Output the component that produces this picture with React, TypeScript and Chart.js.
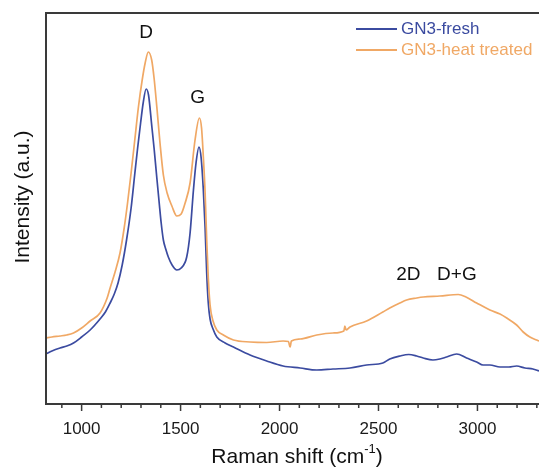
import React, { useEffect, useRef } from "react";
import { Chart, registerables } from "chart.js";

Chart.register(...registerables);

// ---- data (Raman shift in cm^-1, intensity in arbitrary units) ----
const freshX = [
  819, 850, 891, 925, 959, 1000, 1043, 1093, 1120, 1144, 1165, 1184, 1205, 1227, 1250, 1268, 1283, 1298, 1311, 1326,
  1338, 1355, 1366, 1380, 1392, 1402, 1413, 1425, 1438, 1457, 1481, 1503, 1531, 1548, 1565, 1578, 1593, 1604, 1615,
  1624, 1632, 1640, 1649, 1664, 1683, 1725, 1767, 1851, 1935, 2018, 2104, 2188, 2270, 2356, 2440, 2522, 2557, 2608,
  2653, 2693, 2726, 2775, 2810, 2844, 2895, 2945, 2996, 3028, 3063, 3114, 3159, 3198, 3240, 3280, 3311,
];
const freshY = [
  49, 52, 55, 57, 60, 66, 73, 84, 91, 100, 109, 120, 138, 163, 195, 228, 255, 280, 300, 314,
  308, 276, 255, 225, 200, 180, 163, 154, 146, 138, 133, 135, 146, 170, 213, 240, 256, 245, 213,
  175, 130, 100, 84, 74, 66, 60, 56, 48, 42, 37, 35, 33, 34, 35, 38, 40, 44, 47,
  48.5, 47, 45, 43, 44, 46, 49, 45, 41, 38, 38, 36, 36, 37, 35, 34, 32,
];
const heatX = [
  819, 850, 891, 925, 959, 1000, 1043, 1093, 1129, 1144, 1169, 1194, 1215, 1232, 1250, 1268, 1287, 1306, 1321, 1337,
  1354, 1366, 1380, 1396, 1413, 1432, 1456, 1481, 1503, 1523, 1548, 1573, 1595, 1606, 1615, 1624, 1632, 1640, 1649,
  1664, 1683, 1716, 1767, 1851, 1935, 2018, 2045, 2053, 2060, 2104, 2188, 2270, 2325, 2330, 2336, 2356, 2440, 2522,
  2557, 2608, 2642, 2693, 2726, 2810, 2903, 2942, 2996, 3063, 3114, 3148, 3198, 3231, 3265, 3299, 3311,
];
const heatY = [
  65, 66, 67, 68, 70, 75, 82, 90, 105, 115, 131, 150, 175, 200, 230, 262, 296, 323, 340, 351,
  343, 325, 296, 260, 228, 210, 197, 187, 189, 200, 220, 263, 285, 275, 246, 210, 163, 125, 98,
  82, 73, 68, 63, 61, 60.5, 62, 61.5, 56, 62, 64, 68, 70, 72, 77, 73, 76, 82, 91,
  95, 100, 103, 105, 106, 107, 108.5, 106, 100, 93, 89, 85, 78, 71, 66, 63, 62,
];

const seriesNames = ["GN3-fresh", "GN3-heat treated"];
const seriesColors = ["#3b4ba0", "#f0a865"];

const xTicks = [1000, 1500, 2000, 2500, 3000];
const X_MIN = 820;
const X_MAX = 3311;

const peakLabels = ["D", "G", "2D", "D+G"];
const peakLabelX = [1326, 1586, 2651, 2896];
const peakLabelY = [370, 305, 128, 128];

const yTitle = "Intensity (a.u.)";
const xTitleMain = "Raman shift (cm";
const xTitleSup = "-1";
const xTitleEnd = ")";

const FONT = "'Liberation Sans', Arial, Helvetica, sans-serif";

const decorPlugin = {
  id: "decor",
  afterDatasetsDraw(chart: any) {
    const { ctx, chartArea: a, scales } = chart;
    const x = scales.x;
    const y = scales.y;
    ctx.save();

    // frame (left, top, bottom)
    ctx.strokeStyle = "#3a3a3a";
    ctx.lineWidth = 2;
    ctx.beginPath();
    ctx.moveTo(a.right + 2, a.top);
    ctx.lineTo(a.left, a.top);
    ctx.lineTo(a.left, a.bottom);
    ctx.lineTo(a.right + 2, a.bottom);
    ctx.stroke();

    // tick marks (major every 500, minor every 100), outward
    ctx.lineWidth = 1.5;
    ctx.beginPath();
    for (let v = Math.ceil(x.min / 100) * 100; v <= x.max; v += 100) {
      const px = x.getPixelForValue(v);
      const len = v % 500 === 0 ? 7 : 4;
      ctx.moveTo(px, a.bottom);
      ctx.lineTo(px, a.bottom + len);
    }
    ctx.stroke();

    // peak annotations
    ctx.fillStyle = "#111";
    ctx.font = `19px ${FONT}`;
    ctx.textAlign = "center";
    ctx.textBaseline = "middle";
    peakLabels.forEach((t, i) => {
      ctx.fillText(t, x.getPixelForValue(peakLabelX[i]), y.getPixelForValue(peakLabelY[i]));
    });

    // legend (inside, top right)
    ctx.font = `17px ${FONT}`;
    ctx.textAlign = "left";
    seriesNames.forEach((name, i) => {
      const ly = a.top + 16 + i * 21;
      ctx.strokeStyle = seriesColors[i];
      ctx.lineWidth = 1.8;
      ctx.beginPath();
      ctx.moveTo(356, ly);
      ctx.lineTo(397, ly);
      ctx.stroke();
      ctx.fillStyle = seriesColors[i];
      ctx.fillText(name, 401, ly);
    });

    // y title
    ctx.fillStyle = "#111";
    ctx.font = `21px ${FONT}`;
    ctx.save();
    ctx.translate(23, 197);
    ctx.rotate(-Math.PI / 2);
    ctx.textAlign = "center";
    ctx.fillText(yTitle, 0, 0);
    ctx.restore();

    // x title with superscript
    const mainFont = `21px ${FONT}`;
    const supFont = `13px ${FONT}`;
    ctx.font = mainFont;
    const w1 = ctx.measureText(xTitleMain).width;
    const w3 = ctx.measureText(xTitleEnd).width;
    ctx.font = supFont;
    const w2 = ctx.measureText(xTitleSup).width;
    const total = w1 + w2 + w3;
    let sx = 297 - total / 2;
    const ty = 457;
    ctx.textAlign = "left";
    ctx.font = mainFont;
    ctx.fillText(xTitleMain, sx, ty);
    sx += w1;
    ctx.font = supFont;
    ctx.fillText(xTitleSup, sx, ty - 8);
    sx += w2;
    ctx.font = mainFont;
    ctx.fillText(xTitleEnd, sx, ty);

    ctx.restore();
  },
};

export default function App() {
  const canvasRef = useRef<HTMLCanvasElement | null>(null);

  useEffect(() => {
    const canvas = canvasRef.current;
    if (!canvas) return;
    Chart.defaults.font.family = FONT;
    const chart = new Chart(canvas, {
      type: "line",
      data: {
        datasets: [
          {
            label: seriesNames[1],
            data: heatX.map((v, i) => ({ x: v, y: heatY[i] })),
            borderColor: seriesColors[1],
            borderWidth: 1.7,
            pointRadius: 0,
            cubicInterpolationMode: "monotone",
            fill: false,
          },
          {
            label: seriesNames[0],
            data: freshX.map((v, i) => ({ x: v, y: freshY[i] })),
            borderColor: seriesColors[0],
            borderWidth: 1.7,
            pointRadius: 0,
            cubicInterpolationMode: "monotone",
            fill: false,
          },
        ],
      },
      options: {
        responsive: false,
        animation: false,
        devicePixelRatio: 1,
        layout: { padding: { left: 46, top: 13, right: 0, bottom: 31.6 } },
        plugins: { legend: { display: false }, tooltip: { enabled: false } },
        events: [],
        scales: {
          x: {
            type: "linear",
            min: X_MIN,
            max: X_MAX,
            afterBuildTicks: (s: any) => {
              s.ticks = xTicks.map((v) => ({ value: v }));
            },
            ticks: {
              font: { size: 17, family: FONT },
              color: "#1a1a1a",
              padding: 0,
              maxRotation: 0,
              autoSkip: false,
              callback: (v: any) => String(v),
            },
            grid: { display: false, drawTicks: true, tickLength: 15 },
            border: { display: false },
          },
          y: {
            display: false,
            min: -1,
            max: 390,
          },
        },
      },
      plugins: [decorPlugin],
    });
    return () => chart.destroy();
  }, []);

  return (
    <div style={{ position: "fixed", left: 0, top: 0, width: 539, height: 471, background: "#fff" }}>
      <canvas ref={canvasRef} width={539} height={471} style={{ display: "block" }} />
    </div>
  );
}
